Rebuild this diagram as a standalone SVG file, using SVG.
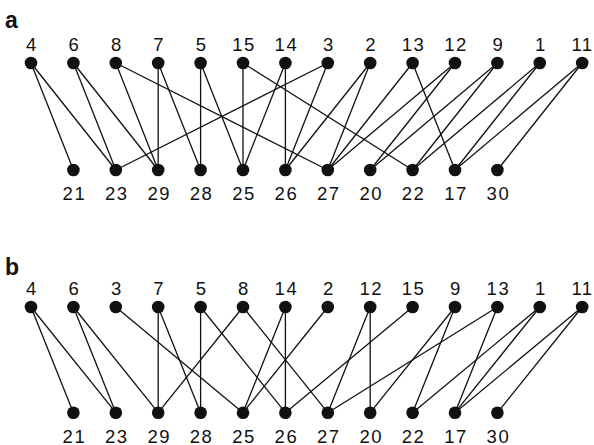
<svg xmlns="http://www.w3.org/2000/svg" width="594" height="445" viewBox="0 0 594 445">
<style>
.bg{fill:#ffffff}
.dot{fill:#111111}
.lbl{font-family:"Liberation Sans",Arial,sans-serif;font-size:18.5px;letter-spacing:1.5px;fill:#111111;text-anchor:middle}
.panel{font-family:"Liberation Sans",Arial,sans-serif;font-size:23px;font-weight:bold;fill:#111111}
.edges line{stroke:#111111;stroke-width:1.3;fill:none}
</style>
<rect class="bg" x="0" y="0" width="594" height="445"/>
<text class="panel" x="5" y="28">a</text>
<text class="panel" x="5" y="275">b</text>

<g id="connectors-a" class="edges">
<line x1="31" y1="63" x2="73.4" y2="170"/>
<line x1="31" y1="63" x2="115.8" y2="170"/>
<line x1="73.4" y1="63" x2="115.8" y2="170"/>
<line x1="73.4" y1="63" x2="158.2" y2="170"/>
<line x1="115.8" y1="63" x2="158.2" y2="170"/>
<line x1="115.8" y1="63" x2="327.8" y2="170"/>
<line x1="158.2" y1="63" x2="158.2" y2="170"/>
<line x1="158.2" y1="63" x2="200.6" y2="170"/>
<line x1="200.6" y1="63" x2="200.6" y2="170"/>
<line x1="200.6" y1="63" x2="243" y2="170"/>
<line x1="243" y1="63" x2="243" y2="170"/>
<line x1="243" y1="63" x2="412.6" y2="170"/>
<line x1="285.4" y1="63" x2="243" y2="170"/>
<line x1="285.4" y1="63" x2="285.4" y2="170"/>
<line x1="327.8" y1="63" x2="115.8" y2="170"/>
<line x1="327.8" y1="63" x2="285.4" y2="170"/>
<line x1="370.2" y1="63" x2="285.4" y2="170"/>
<line x1="370.2" y1="63" x2="327.8" y2="170"/>
<line x1="412.6" y1="63" x2="327.8" y2="170"/>
<line x1="412.6" y1="63" x2="455" y2="170"/>
<line x1="455" y1="63" x2="327.8" y2="170"/>
<line x1="455" y1="63" x2="370.2" y2="170"/>
<line x1="497.4" y1="63" x2="370.2" y2="170"/>
<line x1="497.4" y1="63" x2="412.6" y2="170"/>
<line x1="539.8" y1="63" x2="412.6" y2="170"/>
<line x1="539.8" y1="63" x2="455" y2="170"/>
<line x1="582.2" y1="63" x2="455" y2="170"/>
<line x1="582.2" y1="63" x2="497.4" y2="170"/>
</g>

<g id="connectors-b" class="edges">
<line x1="31" y1="307" x2="73.4" y2="412.7"/>
<line x1="31" y1="307" x2="115.8" y2="412.7"/>
<line x1="73.4" y1="307" x2="115.8" y2="412.7"/>
<line x1="73.4" y1="307" x2="158.2" y2="412.7"/>
<line x1="115.8" y1="307" x2="243" y2="412.7"/>
<line x1="158.2" y1="307" x2="158.2" y2="412.7"/>
<line x1="158.2" y1="307" x2="200.6" y2="412.7"/>
<line x1="200.6" y1="307" x2="200.6" y2="412.7"/>
<line x1="200.6" y1="307" x2="285.4" y2="412.7"/>
<line x1="243" y1="307" x2="158.2" y2="412.7"/>
<line x1="243" y1="307" x2="327.8" y2="412.7"/>
<line x1="285.4" y1="307" x2="243" y2="412.7"/>
<line x1="285.4" y1="307" x2="285.4" y2="412.7"/>
<line x1="327.8" y1="307" x2="243" y2="412.7"/>
<line x1="370.2" y1="307" x2="327.8" y2="412.7"/>
<line x1="370.2" y1="307" x2="370.2" y2="412.7"/>
<line x1="412.6" y1="307" x2="285.4" y2="412.7"/>
<line x1="455" y1="307" x2="370.2" y2="412.7"/>
<line x1="455" y1="307" x2="412.6" y2="412.7"/>
<line x1="497.4" y1="307" x2="327.8" y2="412.7"/>
<line x1="497.4" y1="307" x2="455" y2="412.7"/>
<line x1="539.8" y1="307" x2="412.6" y2="412.7"/>
<line x1="539.8" y1="307" x2="455" y2="412.7"/>
<line x1="582.2" y1="307" x2="455" y2="412.7"/>
<line x1="582.2" y1="307" x2="497.4" y2="412.7"/>
</g>

<!-- Panel a top nodes -->
<g id="a-top-4"><circle class="dot" cx="31" cy="63" r="6.3"/><text class="lbl" x="32" y="50.5">4</text></g>
<g id="a-top-6"><circle class="dot" cx="73.4" cy="63" r="6.3"/><text class="lbl" x="74.4" y="50.5">6</text></g>
<g id="a-top-8"><circle class="dot" cx="115.8" cy="63" r="6.3"/><text class="lbl" x="116.8" y="50.5">8</text></g>
<g id="a-top-7"><circle class="dot" cx="158.2" cy="63" r="6.3"/><text class="lbl" x="159.2" y="50.5">7</text></g>
<g id="a-top-5"><circle class="dot" cx="200.6" cy="63" r="6.3"/><text class="lbl" x="201.6" y="50.5">5</text></g>
<g id="a-top-15"><circle class="dot" cx="243" cy="63" r="6.3"/><text class="lbl" x="244" y="50.5">15</text></g>
<g id="a-top-14"><circle class="dot" cx="285.4" cy="63" r="6.3"/><text class="lbl" x="286.4" y="50.5">14</text></g>
<g id="a-top-3"><circle class="dot" cx="327.8" cy="63" r="6.3"/><text class="lbl" x="328.8" y="50.5">3</text></g>
<g id="a-top-2"><circle class="dot" cx="370.2" cy="63" r="6.3"/><text class="lbl" x="371.2" y="50.5">2</text></g>
<g id="a-top-13"><circle class="dot" cx="412.6" cy="63" r="6.3"/><text class="lbl" x="413.6" y="50.5">13</text></g>
<g id="a-top-12"><circle class="dot" cx="455" cy="63" r="6.3"/><text class="lbl" x="456" y="50.5">12</text></g>
<g id="a-top-9"><circle class="dot" cx="497.4" cy="63" r="6.3"/><text class="lbl" x="498.4" y="50.5">9</text></g>
<g id="a-top-1"><circle class="dot" cx="539.8" cy="63" r="6.3"/><text class="lbl" x="540.8" y="50.5">1</text></g>
<g id="a-top-11"><circle class="dot" cx="582.2" cy="63" r="6.3"/><text class="lbl" x="582.5" y="50.5">11</text></g>

<!-- Panel a bottom nodes -->
<g id="a-bot-21"><circle class="dot" cx="73.4" cy="170" r="6.3"/><text class="lbl" x="74.4" y="199.5">21</text></g>
<g id="a-bot-23"><circle class="dot" cx="115.8" cy="170" r="6.3"/><text class="lbl" x="116.8" y="199.5">23</text></g>
<g id="a-bot-29"><circle class="dot" cx="158.2" cy="170" r="6.3"/><text class="lbl" x="159.2" y="199.5">29</text></g>
<g id="a-bot-28"><circle class="dot" cx="200.6" cy="170" r="6.3"/><text class="lbl" x="201.6" y="199.5">28</text></g>
<g id="a-bot-25"><circle class="dot" cx="243" cy="170" r="6.3"/><text class="lbl" x="244" y="199.5">25</text></g>
<g id="a-bot-26"><circle class="dot" cx="285.4" cy="170" r="6.3"/><text class="lbl" x="286.4" y="199.5">26</text></g>
<g id="a-bot-27"><circle class="dot" cx="327.8" cy="170" r="6.3"/><text class="lbl" x="328.8" y="199.5">27</text></g>
<g id="a-bot-20"><circle class="dot" cx="370.2" cy="170" r="6.3"/><text class="lbl" x="371.2" y="199.5">20</text></g>
<g id="a-bot-22"><circle class="dot" cx="412.6" cy="170" r="6.3"/><text class="lbl" x="413.6" y="199.5">22</text></g>
<g id="a-bot-17"><circle class="dot" cx="455" cy="170" r="6.3"/><text class="lbl" x="456" y="199.5">17</text></g>
<g id="a-bot-30"><circle class="dot" cx="497.4" cy="170" r="6.3"/><text class="lbl" x="498.4" y="199.5">30</text></g>

<!-- Panel b top nodes -->
<g id="b-top-4"><circle class="dot" cx="31" cy="307" r="6.3"/><text class="lbl" x="32" y="295">4</text></g>
<g id="b-top-6"><circle class="dot" cx="73.4" cy="307" r="6.3"/><text class="lbl" x="74.4" y="295">6</text></g>
<g id="b-top-3"><circle class="dot" cx="115.8" cy="307" r="6.3"/><text class="lbl" x="116.8" y="295">3</text></g>
<g id="b-top-7"><circle class="dot" cx="158.2" cy="307" r="6.3"/><text class="lbl" x="159.2" y="295">7</text></g>
<g id="b-top-5"><circle class="dot" cx="200.6" cy="307" r="6.3"/><text class="lbl" x="201.6" y="295">5</text></g>
<g id="b-top-8"><circle class="dot" cx="243" cy="307" r="6.3"/><text class="lbl" x="244" y="295">8</text></g>
<g id="b-top-14"><circle class="dot" cx="285.4" cy="307" r="6.3"/><text class="lbl" x="286.4" y="295">14</text></g>
<g id="b-top-2"><circle class="dot" cx="327.8" cy="307" r="6.3"/><text class="lbl" x="328.8" y="295">2</text></g>
<g id="b-top-12"><circle class="dot" cx="370.2" cy="307" r="6.3"/><text class="lbl" x="371.2" y="295">12</text></g>
<g id="b-top-15"><circle class="dot" cx="412.6" cy="307" r="6.3"/><text class="lbl" x="413.6" y="295">15</text></g>
<g id="b-top-9"><circle class="dot" cx="455" cy="307" r="6.3"/><text class="lbl" x="456" y="295">9</text></g>
<g id="b-top-13"><circle class="dot" cx="497.4" cy="307" r="6.3"/><text class="lbl" x="498.4" y="295">13</text></g>
<g id="b-top-1"><circle class="dot" cx="539.8" cy="307" r="6.3"/><text class="lbl" x="540.8" y="295">1</text></g>
<g id="b-top-11"><circle class="dot" cx="582.2" cy="307" r="6.3"/><text class="lbl" x="582.5" y="295">11</text></g>

<!-- Panel b bottom nodes -->
<g id="b-bot-21"><circle class="dot" cx="73.4" cy="412.7" r="6.3"/><text class="lbl" x="74.4" y="442.5">21</text></g>
<g id="b-bot-23"><circle class="dot" cx="115.8" cy="412.7" r="6.3"/><text class="lbl" x="116.8" y="442.5">23</text></g>
<g id="b-bot-29"><circle class="dot" cx="158.2" cy="412.7" r="6.3"/><text class="lbl" x="159.2" y="442.5">29</text></g>
<g id="b-bot-28"><circle class="dot" cx="200.6" cy="412.7" r="6.3"/><text class="lbl" x="201.6" y="442.5">28</text></g>
<g id="b-bot-25"><circle class="dot" cx="243" cy="412.7" r="6.3"/><text class="lbl" x="244" y="442.5">25</text></g>
<g id="b-bot-26"><circle class="dot" cx="285.4" cy="412.7" r="6.3"/><text class="lbl" x="286.4" y="442.5">26</text></g>
<g id="b-bot-27"><circle class="dot" cx="327.8" cy="412.7" r="6.3"/><text class="lbl" x="328.8" y="442.5">27</text></g>
<g id="b-bot-20"><circle class="dot" cx="370.2" cy="412.7" r="6.3"/><text class="lbl" x="371.2" y="442.5">20</text></g>
<g id="b-bot-22"><circle class="dot" cx="412.6" cy="412.7" r="6.3"/><text class="lbl" x="413.6" y="442.5">22</text></g>
<g id="b-bot-17"><circle class="dot" cx="455" cy="412.7" r="6.3"/><text class="lbl" x="456" y="442.5">17</text></g>
<g id="b-bot-30"><circle class="dot" cx="497.4" cy="412.7" r="6.3"/><text class="lbl" x="498.4" y="442.5">30</text></g>
</svg>
